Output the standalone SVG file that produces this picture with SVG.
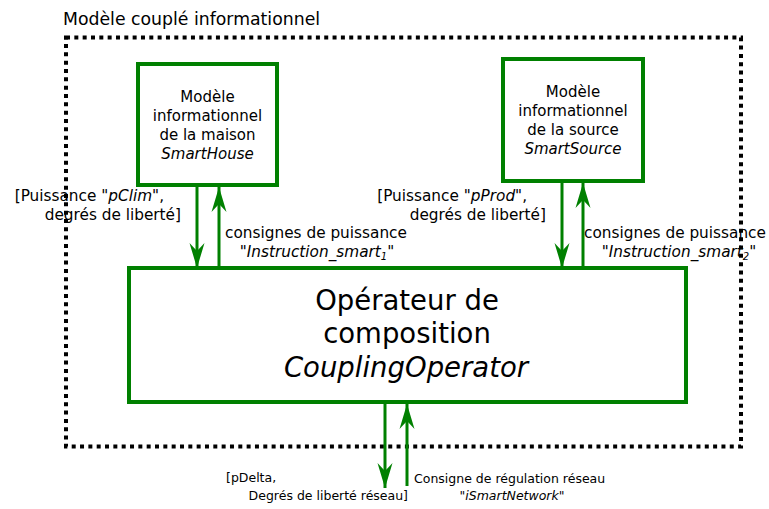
<svg xmlns="http://www.w3.org/2000/svg" width="769" height="509" viewBox="0 0 769 509">
<defs>
<style>
.box{fill:#fff;stroke:#008000;stroke-width:4}
.t{font-family:"DejaVu Sans",Verdana,sans-serif;fill:#000}
.bt{font-size:15px;text-anchor:middle}
.lb{font-size:15.3px}
.sm{font-size:12.5px}
.it{font-style:italic}
.conn line{stroke:#008000;stroke-width:3}
</style>
<marker id="ah" viewBox="-26 -8 27 16" markerWidth="27" markerHeight="16" refX="0" refY="0" orient="auto" markerUnits="userSpaceOnUse">
<path d="M0,0 L-25,-7.5 L-17,0 L-25,7.5 Z" fill="#008000"/>
</marker>
</defs>
<rect width="769" height="509" fill="#fff"/>

<g id="couple">
<text class="t" x="63" y="25" font-size="17.3">Modèle couplé informationnel</text>
<rect x="66" y="37.5" width="675" height="409" fill="none" stroke="#000" stroke-width="4" stroke-dasharray="4 4.33"/>
</g>

<g id="smarthouse">
<rect class="box" x="138" y="64" width="139" height="121"/>
<text class="t bt" x="207.5" y="102">Modèle</text>
<text class="t bt" x="207.5" y="121">informationnel</text>
<text class="t bt" x="207.5" y="140">de la maison</text>
<text class="t bt it" x="207.5" y="159">SmartHouse</text>
</g>

<g id="smartsource">
<rect class="box" x="503" y="59" width="140" height="122"/>
<text class="t bt" x="573" y="97">Modèle</text>
<text class="t bt" x="573" y="116">informationnel</text>
<text class="t bt" x="573" y="135">de la source</text>
<text class="t bt it" x="573" y="154">SmartSource</text>
</g>

<g id="coupling">
<rect class="box" x="129" y="268" width="557" height="134"/>
<text class="t" x="407" y="310" font-size="27.5" text-anchor="middle">Opérateur de</text>
<text class="t" x="407" y="343" font-size="27.5" text-anchor="middle">composition</text>
<text class="t it" x="406" y="377" font-size="27.5" text-anchor="middle">CouplingOperator</text>
</g>

<g class="conn" id="connectors">
<line x1="197" y1="187" x2="197" y2="268" marker-end="url(#ah)"/>
<line x1="219" y1="266" x2="219" y2="187" marker-end="url(#ah)"/>
<line x1="562" y1="183" x2="562" y2="268" marker-end="url(#ah)"/>
<line x1="583" y1="266" x2="583" y2="183" marker-end="url(#ah)"/>
<line x1="385" y1="404" x2="385" y2="488" marker-end="url(#ah)"/>
<line x1="407" y1="486" x2="407" y2="404" marker-end="url(#ah)"/>
</g>

<g id="labels">
<text class="t lb" x="164" y="201" text-anchor="end">[Puissance "<tspan class="it">pClim</tspan>",</text>
<text class="t lb" x="181" y="220" text-anchor="end">degrés de liberté]</text>
<text class="t lb" x="316" y="238" text-anchor="middle">consignes de puissance</text>
<text class="t lb" x="317" y="257" text-anchor="middle">"<tspan class="it">Instruction_smart</tspan><tspan class="it" font-size="10" dy="3">1</tspan><tspan dy="-3">"</tspan></text>

<text class="t lb" x="527" y="201" text-anchor="end">[Puissance "<tspan class="it">pProd</tspan>",</text>
<text class="t lb" x="546" y="220" text-anchor="end">degrés de liberté]</text>
<text class="t lb" x="675" y="238" text-anchor="middle">consignes de puissance</text>
<text class="t lb" x="679" y="257" text-anchor="middle">"<tspan class="it">Instruction_smart</tspan><tspan class="it" font-size="10" dy="3">2</tspan><tspan dy="-3">"</tspan></text>

<text class="t sm" x="226" y="482">[pDelta,</text>
<text class="t sm" x="408" y="500" text-anchor="end">Degrés de liberté réseau]</text>
<text class="t sm" x="414" y="483">Consigne de régulation réseau</text>
<text class="t sm it" x="512" y="500" text-anchor="middle">"iSmartNetwork"</text>
</g>
</svg>
